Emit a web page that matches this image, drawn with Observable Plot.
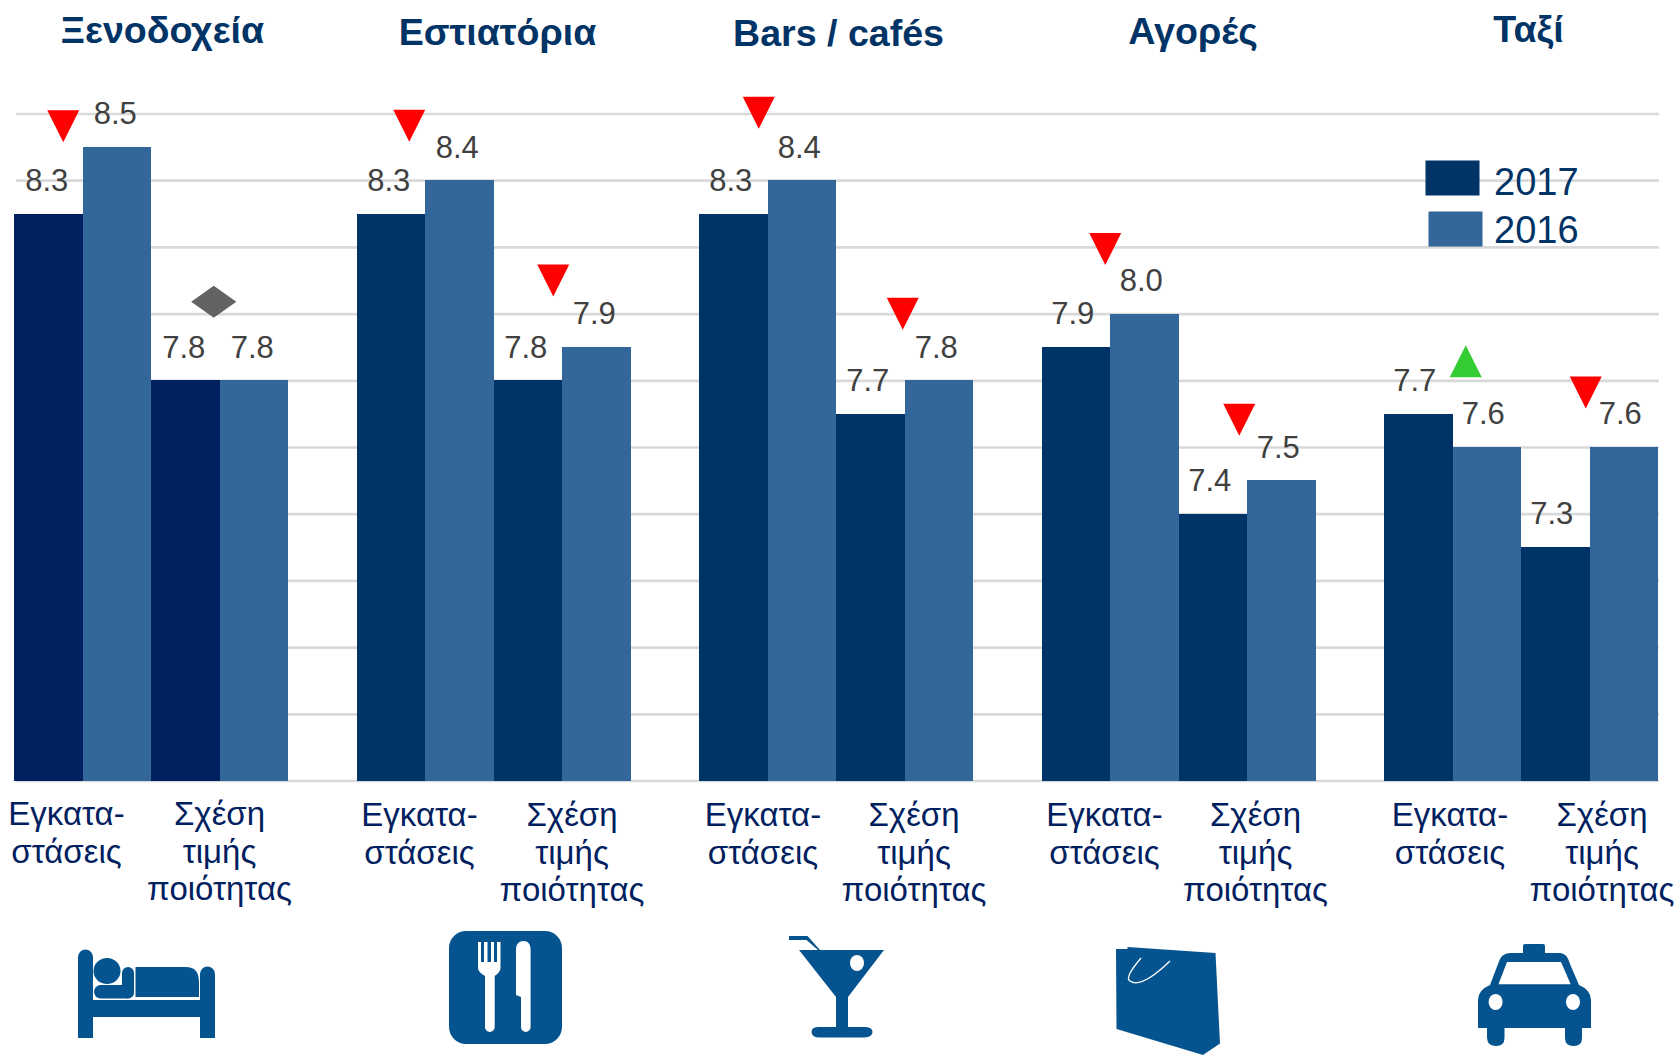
<!DOCTYPE html>
<html lang="el">
<head>
<meta charset="utf-8">
<title>Ικανοποίηση επισκεπτών 2017 / 2016</title>
<script src="https://cdn.jsdelivr.net/npm/d3@7"></script>
<script src="https://cdn.jsdelivr.net/npm/@observablehq/plot@0.6"></script>
<style>html,body{margin:0;padding:0;background:#fff}</style>
</head>
<body>
<script>
// ---- data ----
const groups = ["Ξενοδοχεία", "Εστιατόρια", "Bars / cafés", "Αγορές", "Ταξί"];
const measures = ["Εγκατα-\nστάσεις", "Σχέση\nτιμής\nποιότητας"];
const years = ["2017", "2016"];
const facilities2017 = [8.3, 8.3, 8.3, 7.9, 7.7];
const facilities2016 = [8.5, 8.4, 8.4, 8.0, 7.6];
const value2017 = [7.8, 7.8, 7.7, 7.4, 7.3];
const value2016 = [7.8, 7.9, 7.8, 7.5, 7.6];
const facilitiesTrend = ["down", "down", "down", "down", "up"];
const valueTrend = ["same", "down", "down", "down", "down"];
const gridTicks = [6.6, 6.8, 7.0, 7.2, 7.4, 7.6, 7.8, 8.0, 8.2, 8.4, 8.6];

// ---- hand placement of annotations (pixels), one entry per group ----
const titleNudge = [[11, -1], [3.5, 1], [2, 2], [14, 0], [7, -2]];
const measureNudge = [[[-16.5, -1], [-0.5, -1]], [[-6, 0], [9.5, 0]], [[-5, 0], [9, 0]], [[-6, 0], [8, 0]], [[-3, 0], [12, 0]]];
const markerNudge = [[[14.5, -21], [28, -79]], [[18, -55], [25, -67]], [[25, -68], [32, -67]], [[29, -65], [26, -61]], [[47, -53], [30, -55]]];
const valueLabelNudge = [-2, -2.5, -3, -3.5, -4];

// ---- derived tables ----
const seriesByPair = [[facilities2017, facilities2016], [value2017, value2016]];
const trendByPair = [facilitiesTrend, valueTrend];
const key = (g, p, y) => `${g}|${p}|${y}`;
const slots = groups.flatMap((g, gi) => [
  ...[0, 1].flatMap(p => years.map(y => key(gi, p, y))),
  ...(gi < groups.length - 1 ? [`gap${gi}`] : [])
]);
const bars = groups.flatMap((g, gi) => [0, 1].flatMap(p => years.map((y, yi) => ({
  group: g, gi, pair: p, year: y, slot: key(gi, p, y), value: seriesByPair[p][yi][gi]
}))));

// ---- styling ----
const font = "Liberation Sans";
const navy = "#003366", navyDeep = "#002060", blue = "#336699", ink = "#404040", iconBlue = "#05548F";
const barFill = d => d.year === "2016" ? blue : d.gi === 0 ? navyDeep : navy;
const step = (1658 - 14) / slots.length;

// custom symbols: radius r from the mark sets their size
const radius = size => Math.sqrt(size / Math.PI);
const triDown = {draw(c, s) {const r = radius(s); c.moveTo(-r, -r); c.lineTo(r, -r); c.lineTo(0, r); c.closePath();}};
const triUp = {draw(c, s) {const r = radius(s); c.moveTo(-r, r); c.lineTo(r, r); c.lineTo(0, -r); c.closePath();}};
const diamond = {draw(c, s) {const r = radius(s); c.moveTo(-1.41 * r, 0); c.lineTo(0, -r); c.lineTo(1.41 * r, 0); c.lineTo(0, r); c.closePath();}};
const swatch = {draw(c, s) {const r = radius(s); c.rect(-r, -r * 35 / 54, 2 * r, r * 70 / 54);}};
const trendStyle = {
  down: {symbol: triDown, fill: "#FF0000"},
  up: {symbol: triUp, fill: "#33CC33"},
  same: {symbol: diamond, fill: "#636363"}
};

const titleMarks = groups.map((g, gi) => Plot.text([g], {
  x: () => key(gi, 1, "2017"), frameAnchor: "top", lineAnchor: "bottom", text: d => d,
  dx: titleNudge[gi][0] - step / 2, dy: 43 + titleNudge[gi][1],
  fontFamily: font, fontWeight: "bold", fontSize: 37.6, fill: navy
}));

const measureMarks = groups.flatMap((g, gi) => measures.map((m, p) => Plot.text([m], {
  x: () => key(gi, p, "2016"), frameAnchor: "top", lineAnchor: "top", text: d => d, lineHeight: 1.136,
  dx: measureNudge[gi][p][0] - step / 2, dy: 799.1 + measureNudge[gi][p][1],
  fontFamily: font, fontSize: 33, fill: navyDeep
})));

const valueMarks = groups.map((g, gi) => Plot.text(bars.filter(d => d.gi === gi), {
  x: "slot", y: "value", text: d => d.value.toFixed(1), dx: valueLabelNudge[gi], dy: -33,
  fontFamily: font, fontSize: 31, fill: ink
}));

const markerMarks = groups.flatMap((g, gi) => [0, 1].map(p => {
  const top = Math.max(seriesByPair[p][0][gi], seriesByPair[p][1][gi]);
  const st = trendStyle[trendByPair[p][gi]];
  return Plot.dot([top], {
    x: () => key(gi, p, "2017"), y: d => d, r: 16, symbol: st.symbol, fill: st.fill, stroke: "none",
    dx: markerNudge[gi][p][0], dy: markerNudge[gi][p][1]
  });
}));

const legendMarks = years.flatMap((y, i) => [
  Plot.dot([y], {frameAnchor: "top-left", dx: 1452 + 3 * i, dy: 177.5 + 51 * i, r: 27, symbol: swatch, fill: i ? blue : navy, stroke: "none"}),
  Plot.text([y], {frameAnchor: "top-left", dx: 1493.5, dy: 194 + 48 * i, lineAnchor: "bottom", textAnchor: "start", text: d => d, fontFamily: font, fontSize: 38, fill: navy})
]);

// pictograms under each group
const icons = () => {
  const g = d3.create("svg:g").attr("fill", iconBlue);
  const p = (d, f) => g.append("path").attr("d", d).attr("fill", f || iconBlue);
  const rr = (x, y, w, h, r, f) => g.append("rect").attr("x", x).attr("y", y).attr("width", w).attr("height", h).attr("rx", r).attr("fill", f || iconBlue);
  const el = (cx, cy, rx, ry, f) => g.append("ellipse").attr("cx", cx).attr("cy", cy).attr("rx", rx).attr("ry", ry).attr("fill", f || iconBlue);
  // bed
  p("M78 1038V957a7.5 7.5 0 0 1 15 0V1000H200V974a7.5 7.5 0 0 1 15 0V1038H200V1017H93V1038Z");
  el(107, 971, 13.5, 13);
  rr(94, 985, 40, 13.5, 6.5);
  rr(122, 967, 12, 31.5, 6);
  p("M135.5 967H186Q199 967 199 982V997H135.5Z");
  // cutlery
  rr(449, 931, 113, 113, 17);
  p("M478 942H481V962H484V942H487.5V962H491V942H494V962H497V942H500.5V968Q500.5 972 494.7 976V1027a4.8 5 0 0 1-9.7 0V976Q478 972 478 968Z", "#fff");
  p("M523.5 941C528 941 530.6 944 530.6 950V1027a4.8 5 0 0 1-9.6 0V997L516 995V950C516 944 519 941 523.5 941Z", "#fff");
  // cocktail
  p("M789 936H807.5L820 950H818L806.5 940H789Z");
  p("M799 950H884L848 997V1027H864Q872.5 1027 872.5 1032T864 1037.5H820Q811.5 1037.5 811.5 1032T820 1027H836V997Z");
  el(857, 963, 7, 8, "#fff");
  // bag
  p("M1116 949H1127.5V947L1215.5 953L1220 1043.5L1203 1055L1116.5 1029Z");
  g.append("path").attr("d", "M1141 958Q1124 978 1130 981Q1141 989 1170 961").attr("fill", "none").attr("stroke", "#fff").attr("stroke-width", 1.3);
  // taxi
  p("M1523 953V946Q1523 944 1525 944H1543Q1545 944 1545 946V953H1560Q1567 953 1570 964L1579 985Q1591 990 1591 1000V1028H1582V1038Q1582 1046 1573.5 1046T1565 1038V1028H1504.5V1038Q1504.5 1046 1496 1046T1487 1038V1028H1478V1000Q1478 990 1490 985L1498 964Q1501 953 1510 953Z");
  p("M1507 962H1561L1570.7 984.3H1498.5Z", "#fff");
  el(1495.6, 1002, 7, 8, "#fff");
  el(1573, 1002, 7, 8, "#fff");
  return g.node();
};

const chart = Plot.plot({
  width: 1679,
  height: 1055,
  margin: 0,
  style: {background: "#fff", fontFamily: font},
  x: {type: "band", domain: slots, range: [14, 1658], padding: 0, round: false, axis: null},
  y: {domain: [6.6, 8.6], range: [780.5, 113.5], axis: null},
  color: {type: "identity"},
  marks: [
    Plot.ruleY(gridTicks, {stroke: "#D9D9D9", strokeWidth: 2.7, insetLeft: 16, insetRight: 20}),
    ...legendMarks,
    Plot.barY(bars, {x: "slot", y1: () => gridTicks[0], y2: "value", fill: barFill, shapeRendering: "crispEdges"}),
    ...valueMarks,
    ...markerMarks,
    ...titleMarks,
    ...measureMarks,
    icons
  ]
});
document.body.append(chart);
</script>
</body>
</html>
